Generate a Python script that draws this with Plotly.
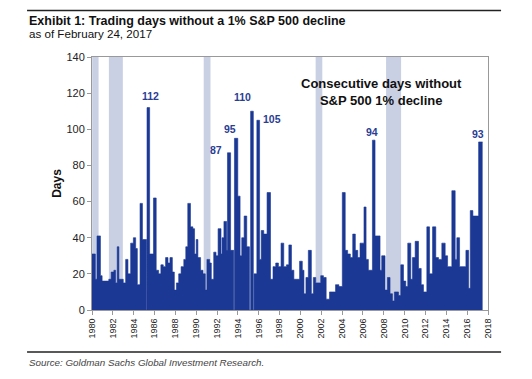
import plotly.graph_objects as go

# Step start (decimal year) and streak length (days)
years = [1980.00, 1980.32, 1980.48, 1980.81, 1980.97, 1981.29, 1981.61, 1981.84, 1982.10, 1982.26,
         1982.42, 1982.58, 1982.74, 1983.00, 1983.23, 1983.45, 1983.71, 1983.97, 1984.19, 1984.35,
         1984.61, 1984.84, 1985.10, 1985.23, 1985.28, 1985.53, 1985.90, 1986.16, 1986.39, 1986.61,
         1986.84, 1987.06, 1987.29, 1987.48, 1987.71, 1987.90, 1988.10, 1988.32, 1988.55, 1988.81,
         1989.00, 1989.19, 1989.45, 1989.68, 1989.84, 1990.00, 1990.16, 1990.42, 1990.65, 1990.87,
         1991.03, 1991.29, 1991.45, 1991.68, 1991.90, 1992.10, 1992.38, 1992.48, 1992.66, 1992.92,
         1993.00, 1993.30, 1993.60, 1993.67, 1993.99, 1994.21, 1994.37, 1994.60, 1994.85, 1995.11,
         1995.22, 1995.48, 1995.55, 1995.82, 1996.08, 1996.24, 1996.48, 1996.80, 1997.13, 1997.37,
         1997.63, 1997.89, 1998.14, 1998.40, 1998.66, 1998.89, 1999.14, 1999.37, 1999.63, 1999.92,
         2000.18, 2000.34, 2000.53, 2000.76, 2001.05, 2001.24, 2001.47, 2001.79, 2001.95, 2002.21,
         2002.47, 2002.79, 2003.11, 2003.37, 2003.69, 2004.02, 2004.30, 2004.53, 2004.79, 2005.02,
         2005.27, 2005.50, 2005.72, 2006.10, 2006.30, 2006.52, 2006.91, 2007.16, 2007.64, 2007.80,
         2008.12, 2008.35, 2008.60, 2008.83, 2009.02, 2009.41, 2009.63, 2009.89, 2010.11, 2010.30,
         2010.59, 2010.75, 2011.01, 2011.33, 2011.59, 2011.81, 2012.13, 2012.39, 2012.68, 2012.99,
         2013.25, 2013.57, 2013.89, 2014.12, 2014.53, 2014.85, 2015.01, 2015.27, 2015.88, 2016.14,
         2016.30, 2016.55, 2017.10, 2017.48]
days = [31, 17, 41, 19, 16, 16, 17, 21, 22, 15,
        35, 17, 17, 15, 28, 20, 37, 40, 34, 14,
        59, 39, 39, 0, 112, 31, 62, 22, 20, 25,
        24, 29, 26, 29, 21, 11, 15, 20, 24, 28,
        35, 59, 46, 45, 31, 39, 29, 22, 20, 11,
        28, 26, 17, 32, 30, 45, 31, 40, 49, 33,
        87, 33, 0, 95, 63, 30, 40, 52, 35, 0,
        110, 0, 20, 105, 28, 44, 42, 65, 17, 24,
        26, 24, 37, 24, 25, 36, 22, 17, 17, 27,
        22, 9, 18, 33, 9, 18, 15, 15, 19, 18,
        6, 10, 10, 14, 13, 65, 33, 31, 29, 42,
        33, 29, 37, 57, 28, 22, 94, 41, 22, 30,
        11, 18, 9, 5, 10, 8, 25, 16, 13, 37,
        17, 29, 38, 23, 14, 10, 46, 20, 46, 29,
        28, 37, 30, 24, 66, 28, 40, 24, 33, 12,
        55, 52, 93, 93]

# Recessions (shaded)
rec_start = [1980.02, 1981.62, 1990.72, 2001.46, 2008.22]
rec_end = [1980.63, 1982.96, 1991.37, 2002.10, 2009.66]

# Labelled peaks: value, label x-shift, y-shift (px), anchor, placement
peak_vals = [112, 87, 95, 110, 105, 94, 93]
peak_dx = [2, -5, -6, -9, 3, -2, -3]
peak_dy = [4, 3, 1, 6, 1, 0, 0]
peak_anchor = ["center", "right", "center", "center", "left", "center", "center"]
peak_pos = ["top", "side", "top", "top", "side", "top", "top"]

tick_years = list(range(1980, 2019, 2))
y_ticks = list(range(0, 141, 20))

BLUE = "#1a3894"
SHADE = "#c9d0e4"
FONT = "Liberation Sans, Arial, sans-serif"

fig = go.Figure()
fig.add_trace(go.Scatter(
    x=years, y=days, mode="lines", line=dict(shape="hv", color=BLUE, width=0.6),
    fill="tozeroy", fillcolor=BLUE, hoverinfo="skip", showlegend=False))

shapes = []
for s, e in zip(rec_start, rec_end):
    shapes.append(dict(type="rect", xref="x", yref="paper", x0=s, x1=e, y0=0, y1=1,
                       fillcolor=SHADE, line=dict(width=0), layer="below"))
# horizontal rules (top and bottom of the exhibit)
for yr in (1.184, -0.166):
    shapes.append(dict(type="line", xref="paper", yref="paper", x0=-0.164, x1=1.033,
                       y0=yr, y1=yr, line=dict(color="#222222", width=1.6), layer="above"))

annotations = []
for v, dx, dy, anc, pos in zip(peak_vals, peak_dx, peak_dy, peak_anchor, peak_pos):
    i = [k for k in range(len(days) - 1) if days[k] == v][0]
    xc = (years[i] + years[i + 1]) / 2
    annotations.append(dict(x=xc, y=v, text=str(v), showarrow=False, xanchor=anc,
                            yanchor="bottom" if pos == "top" else "middle",
                            xshift=dx, yshift=dy,
                            font=dict(family=FONT, size=10.5, color="#2a3d94", weight="bold")))

annotations.append(dict(xref="paper", yref="paper", x=0.732, y=0.862,
                        text="Consecutive days without<br>S&P 500 1% decline", showarrow=False,
                        align="center", xanchor="center", yanchor="middle",
                        font=dict(family=FONT, size=13, color="#111111", weight="bold")))
annotations.append(dict(xref="paper", yref="paper", x=-0.164, y=1.142, xanchor="left", yanchor="middle",
                        text="Exhibit 1: Trading days without a 1% S&P 500 decline", showarrow=False,
                        font=dict(family=FONT, size=12.5, color="#111111", weight="bold")))
annotations.append(dict(xref="paper", yref="paper", x=-0.164, y=1.093, xanchor="left", yanchor="middle",
                        text="as of February 24, 2017", showarrow=False,
                        font=dict(family=FONT, size=11.6, color="#111111")))
annotations.append(dict(xref="paper", yref="paper", x=-0.164, y=-0.206, xanchor="left", yanchor="middle",
                        text="<i>Source: Goldman Sachs Global Investment Research.</i>", showarrow=False,
                        font=dict(family=FONT, size=9.8, color="#444444")))

fig.update_layout(
    width=532, height=379,
    margin=dict(l=92, r=44, t=57, b=69),
    paper_bgcolor="white", plot_bgcolor="white",
    shapes=shapes, annotations=annotations,
    font=dict(family=FONT, color="#222222"),
    xaxis=dict(range=[1980, 2018], tickmode="array", tickvals=tick_years,
               ticktext=[str(t) for t in tick_years], tickangle=-90,
               tickfont=dict(size=9, color="#222222"), ticks="outside", ticklen=4,
               tickcolor="#999999", showline=True, linecolor="#999999", linewidth=1,
               mirror=True, showgrid=False, zeroline=False),
    yaxis=dict(range=[0, 140], tickmode="array", tickvals=y_ticks,
               tickfont=dict(size=11, color="#222222"), ticks="outside", ticklen=4,
               tickcolor="#999999", showline=True, linecolor="#999999", linewidth=1,
               mirror=True, showgrid=False, zeroline=False,
               title=dict(text="<b>Days</b>", font=dict(size=12, color="#111111"), standoff=2)),
)

fig.write_html("out.html", config={"displayModeBar": False},
               post_script="document.body.style.margin='0px';")
